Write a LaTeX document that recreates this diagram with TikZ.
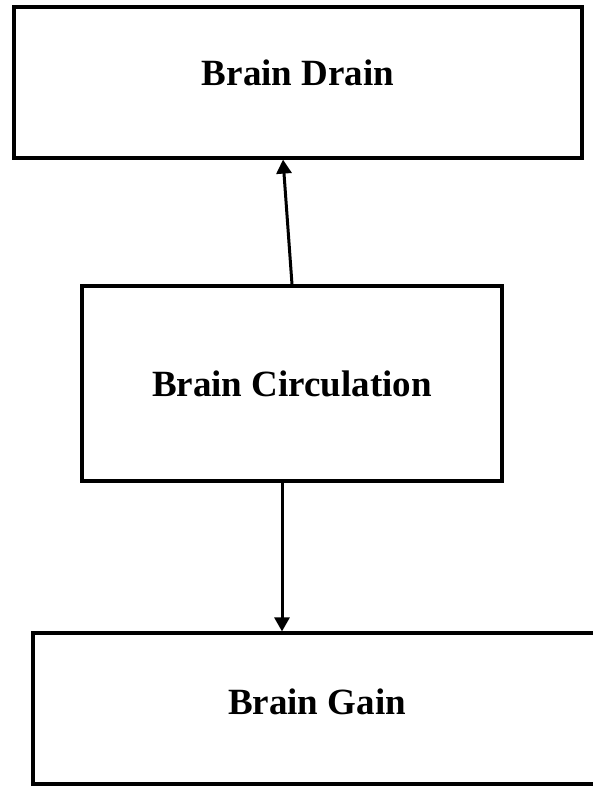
\documentclass[tikz,border=0pt]{standalone}
\usepackage{fontspec}
\setmainfont{Liberation Serif}
\usetikzlibrary{arrows.meta,calc}

\begin{document}
\begin{tikzpicture}[
            x=1pt, y=-1pt,
            brainbox/.style={draw, rectangle, line width=3.2pt, inner sep=0pt, align=center, font=\fontsize{37}{44}\selectfont\bfseries},
            flow/.style={-{Triangle[length=14pt, width=15pt]}, line width=3pt}
        ]
            \useasboundingbox (0,0) rectangle (592,786);
            \node[brainbox, minimum width=568pt, minimum height=151pt, text depth=20pt] (drain) at (298,82.5) {Brain Drain};
            \node[brainbox, minimum width=420pt, minimum height=195pt] (circ) at (292,383.5) {Brain Circulation};
            % right side runs off the page
            \node[brainbox, minimum width=607pt, minimum height=151pt, text depth=14pt] (gain) at (336.5,708.5) {Brain Gain\hspace*{39pt}};
            
            \draw[flow] (circ.north) -- ([xshift=-15pt]drain.south);
            \draw[flow] ([xshift=-10pt]circ.south) -- ([xshift=-10pt]circ.south |- gain.north);
        \end{tikzpicture}
\end{document}
